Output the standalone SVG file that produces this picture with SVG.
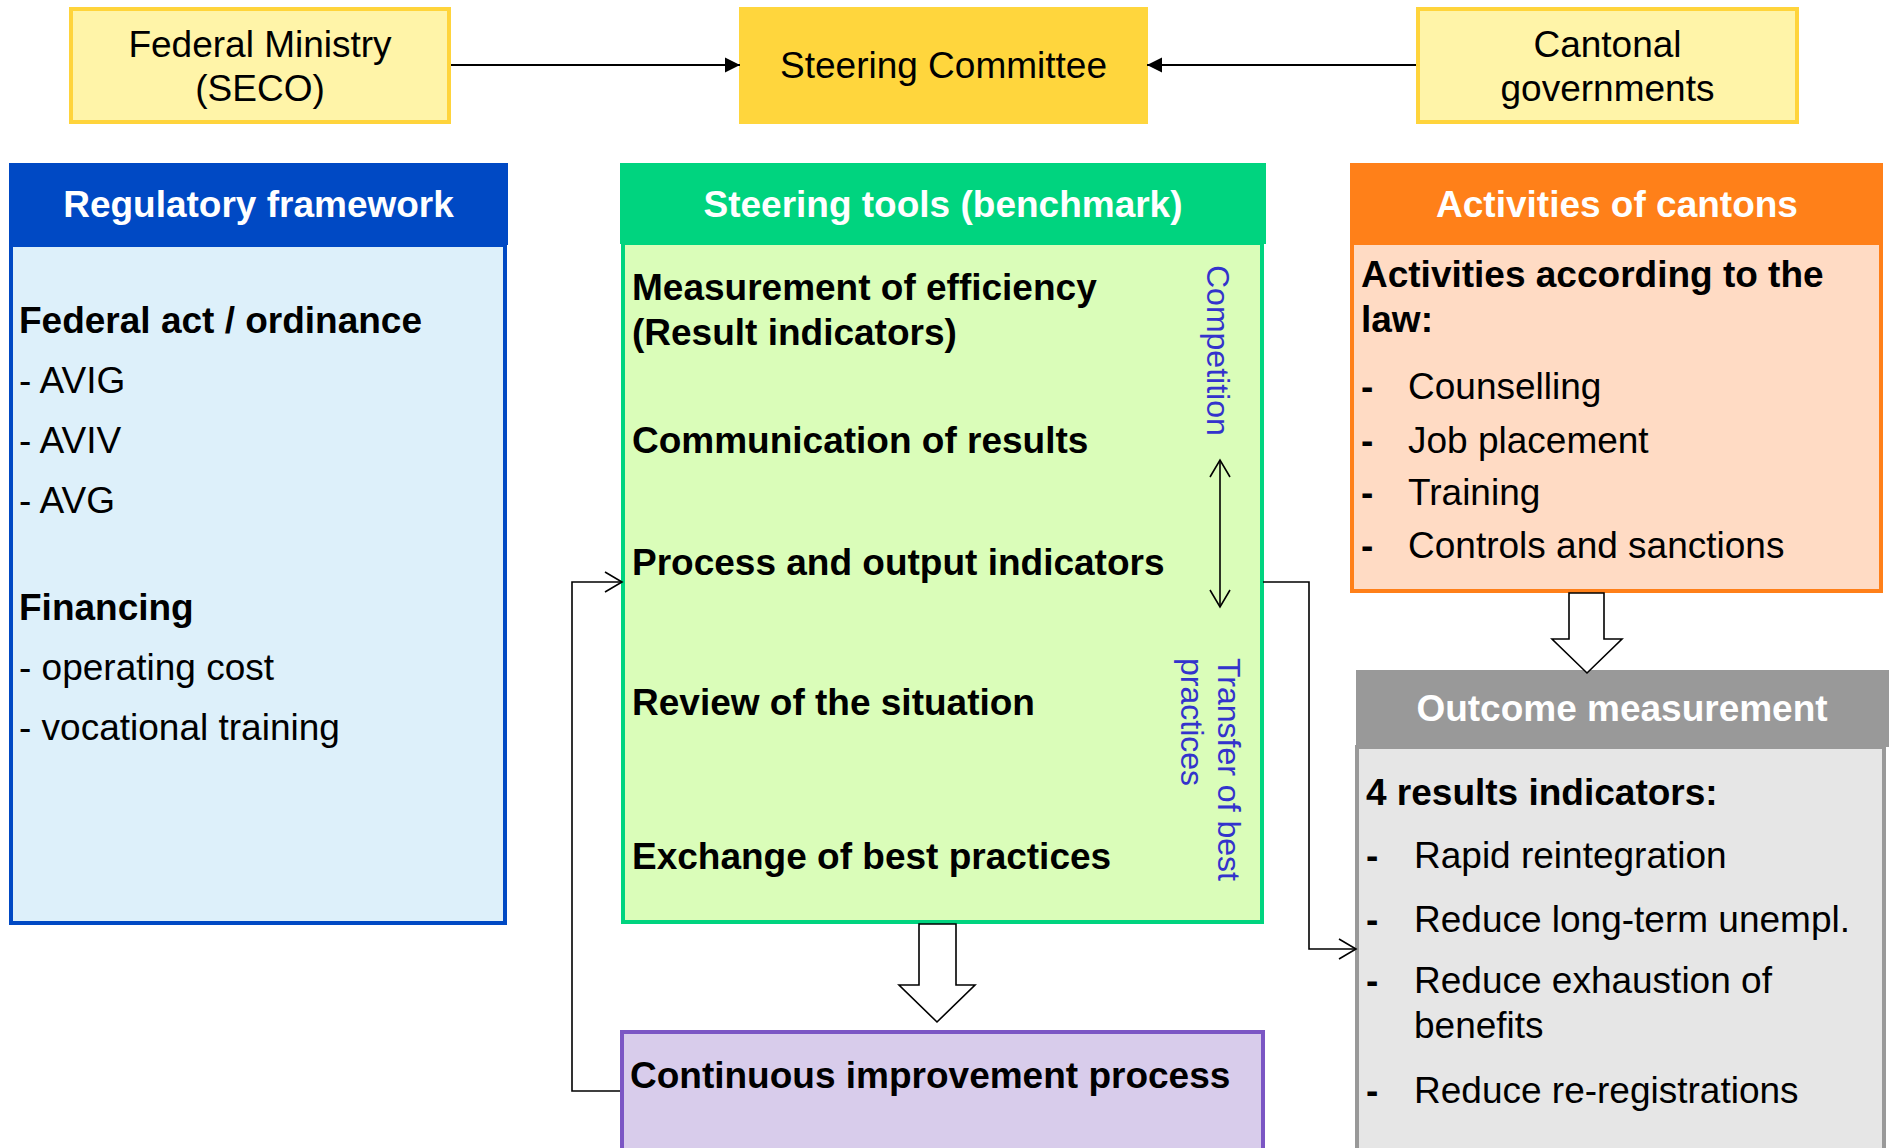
<svg xmlns="http://www.w3.org/2000/svg" width="1896" height="1148" viewBox="0 0 1896 1148">
  <style>
    text { font-family: "Liberation Sans", Arial, sans-serif; font-size: 37px; fill: #000; }
    .b { font-weight: bold; }
    .hd { font-weight: bold; fill: #fff; text-anchor: middle; }
    .c { text-anchor: middle; }
    .vt { font-size: 32px; fill: #3333CC; }
    .ln { fill: none; stroke: #000; stroke-width: 2; }
    .thin { fill: none; stroke: #000; stroke-width: 1.6; }
    .blk { fill: #fff; stroke: #000; stroke-width: 1.6; stroke-linejoin: miter; }
  </style>
  <defs>
    <marker id="solid" markerUnits="userSpaceOnUse" markerWidth="16" markerHeight="16" refX="15" refY="7.5" orient="auto" overflow="visible">
      <path d="M0,0 L15,7.5 L0,15 Z" fill="#000"/>
    </marker>
    <marker id="open" markerUnits="userSpaceOnUse" markerWidth="20" markerHeight="22" refX="17" refY="10" orient="auto-start-reverse" overflow="visible">
      <path d="M0,0 L17,10 L0,20" fill="none" stroke="#000" stroke-width="1.6"/>
    </marker>
  </defs>

  <!-- Top boxes -->
  <g id="federal-ministry">
    <rect x="71" y="9" width="378" height="113" fill="#FFF4A8" stroke="#FFD43B" stroke-width="4"/>
    <text class="c" x="260" y="57">Federal Ministry</text>
    <text class="c" x="260" y="101">(SECO)</text>
  </g>
  <g id="steering-committee">
    <rect x="739" y="7" width="409" height="117" fill="#FFD63D"/>
    <text class="c" x="943.5" y="78">Steering Committee</text>
  </g>
  <g id="cantonal-governments">
    <rect x="1418" y="9" width="379" height="113" fill="#FFF4A8" stroke="#FFD43B" stroke-width="4"/>
    <text class="c" x="1607.5" y="57">Cantonal</text>
    <text class="c" x="1607.5" y="101">governments</text>
  </g>

  <!-- Regulatory framework -->
  <g id="regulatory-framework">
    <rect x="11" y="245" width="494" height="678" fill="#DDF0FA" stroke="#0049C4" stroke-width="4"/>
    <rect x="9" y="163" width="499" height="82" fill="#0049C4"/>
    <text class="hd" x="258.5" y="217">Regulatory framework</text>
    <text class="b" x="19" y="333">Federal act / ordinance</text>
    <text x="19" y="393">- AVIG</text>
    <text x="19" y="453">- AVIV</text>
    <text x="19" y="513">- AVG</text>
    <text class="b" x="19" y="620">Financing</text>
    <text x="19" y="680">- operating cost</text>
    <text x="19" y="740">- vocational training</text>
  </g>

  <!-- Steering tools -->
  <g id="steering-tools">
    <rect x="623" y="243" width="639" height="679" fill="#DAFDB9" stroke="#00D47F" stroke-width="4"/>
    <rect x="620" y="163" width="646" height="81" fill="#00D47F"/>
    <text class="hd" x="943" y="217">Steering tools (benchmark)</text>
    <text class="b" x="632" y="300">Measurement of efficiency</text>
    <text class="b" x="632" y="345">(Result indicators)</text>
    <text class="b" x="632" y="453">Communication of results</text>
    <text class="b" x="632" y="575">Process and output indicators</text>
    <text class="b" x="632" y="715">Review of the situation</text>
    <text class="b" x="632" y="869">Exchange of best practices</text>
    <text class="vt" transform="translate(1207,265) rotate(90)">Competition</text>
    <text class="vt" transform="translate(1218,658) rotate(90)">Transfer of best</text>
    <text class="vt" transform="translate(1181,658) rotate(90)">practices</text>
  </g>

  <!-- Activities of cantons -->
  <g id="activities-of-cantons">
    <rect x="1352" y="243" width="529" height="348" fill="#FFDBC4" stroke="#FF8019" stroke-width="4"/>
    <rect x="1350" y="163" width="533" height="81" fill="#FF8019"/>
    <text class="hd" x="1617" y="217">Activities of cantons</text>
    <text class="b" x="1361" y="287">Activities according to the</text>
    <text class="b" x="1361" y="332">law:</text>
    <text class="b" x="1361" y="399">-</text><text x="1408" y="399">Counselling</text>
    <text class="b" x="1361" y="453">-</text><text x="1408" y="453">Job placement</text>
    <text class="b" x="1361" y="505">-</text><text x="1408" y="505">Training</text>
    <text class="b" x="1361" y="558">-</text><text x="1408" y="558">Controls and sanctions</text>
  </g>

  <!-- Outcome measurement -->
  <g id="outcome-measurement">
    <rect x="1357" y="747" width="527" height="420" fill="#E6E6E6" stroke="#999999" stroke-width="4"/>
    <rect x="1356" y="670" width="533" height="77" fill="#999999"/>
    <text class="hd" x="1622" y="721">Outcome measurement</text>
    <text class="b" x="1366" y="805">4 results indicators:</text>
    <text class="b" x="1366" y="868">-</text><text x="1414" y="868">Rapid reintegration</text>
    <text class="b" x="1366" y="932">-</text><text x="1414" y="932">Reduce long-term unempl.</text>
    <text class="b" x="1366" y="993">-</text><text x="1414" y="993">Reduce exhaustion of</text>
    <text x="1414" y="1038">benefits</text>
    <text class="b" x="1366" y="1103">-</text><text x="1414" y="1103">Reduce re-registrations</text>
  </g>

  <!-- Continuous improvement process -->
  <g id="continuous-improvement">
    <rect x="622" y="1032" width="641" height="140" fill="#D8CCEB" stroke="#7B56C4" stroke-width="4"/>
    <text class="b" x="630" y="1088">Continuous improvement process</text>
  </g>

  <!-- Connectors -->
  <g id="connectors">
    <line class="ln" x1="451" y1="65" x2="740" y2="65" marker-end="url(#solid)"/>
    <line class="ln" x1="1416" y1="65" x2="1147" y2="65" marker-end="url(#solid)"/>
    <polyline class="thin" points="620,1091 572,1091 572,582 622,582" marker-end="url(#open)"/>
    <polyline class="thin" points="1263,582 1309,582 1309,949 1356,949" marker-end="url(#open)"/>
    <line class="thin" x1="1220" y1="460" x2="1220" y2="607" marker-start="url(#open)" marker-end="url(#open)"/>
    <path class="blk" d="M919,924 L956,924 L956,985 L975,985 L937,1022 L899,985 L919,985 Z"/>
    <path class="blk" d="M1569,593 L1604,593 L1604,639 L1622,639 L1587,673 L1552,639 L1569,639 Z"/>
  </g>
</svg>
